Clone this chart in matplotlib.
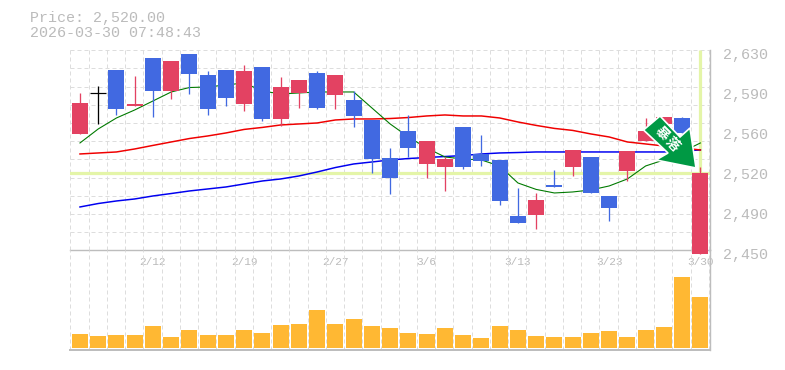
import matplotlib
matplotlib.use("Agg")
import matplotlib.pyplot as plt
from matplotlib.patches import Polygon
from matplotlib.transforms import ScaledTranslation

W, H = 785, 370
FONT = "Liberation Mono"

opens = [2555, 2564, 2612, 2580, 2623, 2593, 2627, 2608, 2612, 2582, 2615, 2568, 2592, 2610, 2590,
         2585, 2567, 2533, 2557, 2528, 2525, 2561, 2537, 2531, 2481, 2482, 2509, 2525, 2534, 2499,
         2521, 2548, 2564, 2569, 2447]
closes = [2583, 2592, 2577, 2582, 2593, 2620, 2609, 2577, 2587, 2611, 2568, 2597, 2603, 2578, 2608,
          2571, 2532, 2515, 2542, 2548, 2532, 2525, 2530, 2494, 2475, 2495, 2507, 2540, 2502, 2488,
          2539, 2557, 2570, 2556, 2520]
highs = [2592, 2598, 2612, 2607, 2623, 2620, 2627, 2611, 2612, 2617, 2615, 2606, 2603, 2611, 2608,
         2593, 2567, 2542, 2572, 2548, 2534, 2561, 2554, 2531, 2506, 2502, 2522, 2540, 2534, 2499,
         2539, 2569, 2570, 2570, 2525]
lows = [2555, 2564, 2572, 2580, 2570, 2586, 2591, 2572, 2580, 2575, 2566, 2562, 2578, 2577, 2577,
        2561, 2520, 2501, 2534, 2515, 2503, 2523, 2526, 2491, 2475, 2469, 2507, 2517, 2502, 2476,
        2512, 2548, 2564, 2556, 2447]

ma_short = [2546.6, 2559.2, 2569.1, 2576.3, 2584.4, 2592.5, 2596.5, 2597, 2598.8, 2600.6, 2593.4, 2590.7,
            2591.6, 2592.5, 2592.5, 2592.5, 2578.1, 2563.7, 2552, 2542.1, 2534, 2532.2, 2531.3, 2525.9,
            2510.6, 2504.8, 2501.6, 2502.5, 2504.3, 2507.9, 2514.2, 2525.9, 2531.3, 2538.5, 2546.6]
ma_mid = [2536.7, 2537.6, 2538.5, 2541.2, 2544.4, 2547.5, 2550.6, 2552.9, 2555.6, 2558.8, 2560.6, 2562.8,
          2563.7, 2564.6, 2567.3, 2568.2, 2568.2, 2568.6, 2569.5, 2570.9, 2571.8, 2570.9, 2570.9, 2569.1,
          2565.5, 2562.4, 2559.7, 2557.9, 2554.7, 2552, 2547.5, 2545.7, 2543.9, 2542.1, 2540.3]
ma_long = [2489, 2492.1, 2494.4, 2496.2, 2498.9, 2501.1, 2503.4, 2505.2, 2507, 2509.7, 2512.4, 2514.2,
           2516.9, 2520.5, 2524.5, 2527.7, 2529.5, 2531.3, 2532.6, 2533.5, 2534.4, 2535.3, 2536.7, 2537.6,
           2538, 2538.5, 2538.5, 2538.5, 2538.5, 2538.5, 2538.5, 2538.5, 2538.5, 2539.4, 2540.3]

volumes = [14, 12, 13, 13, 22, 11, 18, 13, 13, 18, 15, 23, 24, 38, 24, 29, 22, 20, 15, 14, 20, 13, 10, 22,
           18, 12, 11, 11, 15, 17, 11, 18, 21, 71, 51]

price_ticks = [2630, 2594, 2558, 2522, 2486, 2450]
price_labels = ["2,630", "2,590", "2,560", "2,520", "2,490", "2,450"]
date_ticks = [4, 9, 14, 19, 24, 29, 34]
date_labels = ["2/12", "2/19", "2/27", "3/6", "3/13", "3/23", "3/30"]
current_price = 2520
title_lines = ["Price: 2,520.00", "2026-03-30 07:48:43"]
arrow_text = ["暴", "落"]

RED, BLUE, ORANGE = "#e34262", "#4169e1", "#ffb833"
GRID, AXIS, TEXT, PALE = "#dddddd", "#bdbdbd", "#bbbbbb", "#e4f5a8"
px = 0.72


def box(l, t, r, b):
    return [l / W, 1 - b / H, (r - l) / W, (b - t) / H]


fig = plt.figure(figsize=(W / 100, H / 100), dpi=100, facecolor="white")
ax = fig.add_axes(box(70.3, 50.3, 709.5, 250.3))
av = fig.add_axes(box(70.3, 250.3, 709.5, 350.3), sharex=ax)
n = len(opens)
xs = list(range(n))
ax.set_xlim(-0.53, 34.5)
ax.set_ylim(2450, 2630)
av.set_ylim(-2, 98)

for a in (ax, av):
    a.patch.set_alpha(0)
    for s in a.spines.values():
        s.set_visible(False)
    for k in range(36):
        a.axvline(k - 0.53, color=GRID, lw=px, dashes=(4, 3), zorder=1, clip_on=False)
for k in range(12):
    ax.axhline(2450 + k * 180 / 11, color=GRID, lw=px, dashes=(4, 3), zorder=1)

# frame
ax.spines["right"].set(visible=True, color=AXIS, lw=1.4 * px)
ax.spines["bottom"].set(visible=True, color=AXIS, lw=1.4 * px)
av.spines["right"].set(visible=True, color=AXIS, lw=1.4 * px)
av.spines["bottom"].set(visible=True, color=AXIS, lw=2 * px)

# current price cross
ax.axhline(current_price, color=PALE, lw=3.2 * px, zorder=1.5)
ax.vlines(n - 1, current_price, 2630, color=PALE, lw=3.2 * px, zorder=1.5)

# moving averages
ax.plot(xs, ma_long, color="#0000f0", lw=1.5 * px, zorder=2)
ax.plot(xs, ma_mid, color="#f00000", lw=1.5 * px, zorder=2)
ax.plot(xs, ma_short, color="#007a00", lw=1.1 * px, zorder=2)

# candles
for i in xs:
    o, c = opens[i], closes[i]
    col = "black" if i == 1 else (RED if c >= o else BLUE)
    ax.vlines(i, lows[i], highs[i], color=col, lw=1.3 * px, zorder=3, clip_on=False)
    if i == 1:
        ax.hlines(c, i - 0.44, i + 0.44, color=col, lw=1.2 * px, zorder=3)
    else:
        ax.bar(i, abs(c - o), bottom=min(o, c), width=0.877, color=col, lw=0, zorder=3, clip_on=False)

av.bar(xs, volumes, width=0.877, color=ORANGE, lw=0, zorder=3)

# ticks
ax.yaxis.tick_right()
ax.set_yticks(price_ticks, price_labels, fontfamily=FONT, fontsize=10.8, color=TEXT)
ax.tick_params(axis="y", length=0, pad=10)
ax.set_xticks(date_ticks, date_labels, fontfamily=FONT, fontsize=8, color=TEXT)
ax.tick_params(axis="x", length=0, pad=5, labelbottom=True)
av.tick_params(axis="both", length=0, labelbottom=False, labelleft=False)
off = ScaledTranslation(0, -3 / 100, fig.dpi_scale_trans)
for lb in ax.get_yticklabels():
    lb.set_transform(lb.get_transform() + off)

# header
for j, line in enumerate(title_lines):
    fig.text(29.5 / W, 1 - (18 + j * 15) / H, line, fontfamily=FONT, fontsize=10.8,
             color=TEXT, ha="left", va="center")

# arrow badge (figure pixel positions)
arrow = [(660, 116), (680, 137), (690, 128), (696, 168), (656, 160), (668, 153), (643.5, 130)]
fig.add_artist(Polygon([(x / W, 1 - y / H) for x, y in arrow], closed=True, transform=fig.transFigure,
                       facecolor="#009944", edgecolor="white", lw=1.2, joinstyle="miter", zorder=10))
for ch, (x, y) in zip(arrow_text, [(661.5, 133.5), (672.5, 144)]):
    fig.text(x / W, 1 - y / H, ch, family=["Noto Sans CJK JP", "DejaVu Sans"], fontsize=10,
             fontweight="bold", color="white", rotation=-45, ha="center", va="center", zorder=11)

fig.savefig("out.png", dpi=100, facecolor="white")
